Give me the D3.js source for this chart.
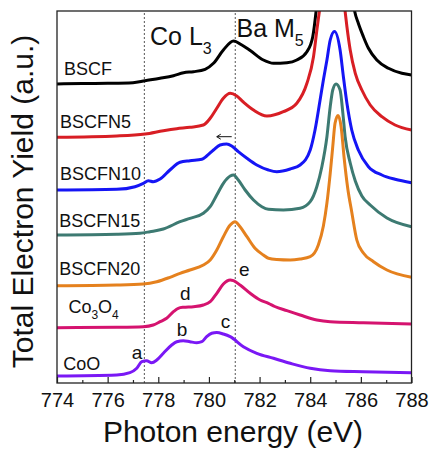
<!DOCTYPE html>
<html>
<head>
<meta charset="utf-8">
<script src="https://cdn.jsdelivr.net/npm/d3@7"></script>
<style>
  html, body { margin: 0; padding: 0; background: #fff; }
  svg { display: block; font-family: "Liberation Sans", Arial, sans-serif; }
</style>
</head>
<body>
<svg id="chart" width="431" height="449"></svg>
<script>
// ---- data (x: photon energy eV, y: total electron yield, arbitrary units) ----
const seriesNames = ["BSCF", "BSCFN5", "BSCFN10", "BSCFN15", "BSCFN20", "Co3O4", "CoO"];
const seriesColors = ["#000000", "#d81e24", "#1515f5", "#3d7a72", "#e5811e", "#d5136f", "#7a18f5"];

const bscf = [
  [774.0,299],[775.0,299.5],[776.0,299.7],[777.0,300.3],[777.48,302.3],[778.07,304.7],[778.6,307.3],
  [779.0,310.3],[779.39,311.3],[779.85,313.7],[780.18,319.7],[780.57,333],[780.97,342],[781.3,338],
  [781.63,332.5],[782.15,323],[782.55,319.7],[783.08,320.3],[783.47,323],[783.87,331.3],[784.1,346.3],
  [784.23,371.3],[784.4,420],[784.7,470],[785.0,485],[785.3,465],[785.6,400],[785.76,371.3],
  [785.9,359.7],[786.1,346.3],[786.3,334.7],[786.63,323],[787.09,314.7],[787.62,309.7],[788.0,308]
];
const bscfn5 = [
  [774.0,245.7],[776.36,247],[777.48,249],[778.2,252.3],[778.73,254.3],[779.25,255.7],[779.78,258],
  [780.05,264.7],[780.31,274.7],[780.57,284.7],[780.84,289.7],[781.1,287],[781.36,281],[781.76,273],
  [782.29,267],[782.94,271.3],[783.47,279.7],[783.87,299.7],[784.13,326.3],[784.28,356.3],[784.36,371.3],
  [784.6,420],[784.87,445],[785.15,420],[785.38,371.3],[785.45,356.3],[785.58,333],[785.78,309.7],
  [786.04,293],[786.37,278],[786.83,266.3],[787.35,258],[788.0,253]
];
const bscfn10 = [
  [774.0,193],[776.36,193.7],[777.08,196.3],[777.41,199.7],[777.61,202.3],[777.8,201.3],[778.07,204],
  [778.46,213],[778.86,220.7],[779.25,222.3],[779.72,223.7],[779.91,227],[780.18,233],[780.44,238],
  [780.7,239],[780.9,237],[781.16,231.3],[781.5,224.7],[781.89,218],[782.35,213],[782.68,211.3],
  [783.21,214],[783.6,218],[784.0,233],[784.19,253],[784.39,283],[784.52,303],[784.66,323],[784.79,343],
  [784.96,351.5],[785.18,333],[785.31,306.3],[785.45,279.7],[785.64,253],[785.9,233],[786.3,216.3],
  [786.83,208],[787.35,203.7],[788.0,200.3]
];
const bscfn15 = [
  [774.0,148],[776.36,148.7],[777.28,149.7],[777.67,151.3],[778.2,154],[778.86,161.3],[779.25,164.7],
  [779.78,169.7],[780.05,176.3],[780.31,188],[780.57,199.7],[780.84,207],[780.97,208],[781.16,203],
  [781.43,193],[781.76,183],[782.09,176.3],[782.35,173.7],[782.94,173],[783.6,174.7],[784.0,181.3],
  [784.26,196.3],[784.46,216.3],[784.66,246.3],[784.79,276.3],[784.89,293],[785.02,299],[785.18,293],
  [785.29,269.7],[785.38,246],[785.58,220],[785.78,202],[786.04,187],[786.37,178],[787.03,165],[788.0,156.3]
];
const bscfn20 = [
  [774.0,97.3],[776.36,98],[777.41,99],[777.94,101.3],[778.46,105.7],[778.86,109.7],[779.25,113],
  [779.78,118],[780.05,123],[780.31,133],[780.57,146.3],[780.84,158],[781.03,161.3],[781.23,156.3],
  [781.5,146.3],[781.82,134.7],[782.15,128],[782.35,124.7],[782.68,123.5],[783.21,123],[783.6,124],
  [784.0,126.3],[784.32,138],[784.52,157],[784.66,180],[784.79,209.7],[784.89,236.3],[784.98,259.7],
  [785.1,267.5],[785.22,256.3],[785.34,225],[785.48,195],[785.64,171],[785.84,143],[786.1,130],
  [786.5,121.3],[787.03,113],[788.0,105.7]
];
const co3o4 = [
  [774.0,55.3],[776.36,55.7],[777.41,56.3],[777.8,58],[778.07,61.3],[778.33,64.7],[778.6,71.3],
  [778.79,74.7],[778.99,75.7],[779.39,76.3],[779.78,78],[780.05,81.3],[780.31,89.7],[780.57,99],
  [780.84,103],[780.97,102.3],[781.23,98],[781.63,89.7],[782.02,83],[782.35,79.7],[782.6,76.5],
  [783.08,72.3],[783.6,68],[784.26,63],[784.79,61.3],[786.1,60.3],[788.0,59]
];
const coo = [
  [774.0,7],[776.36,8],[776.88,10.3],[777.15,14.7],[777.35,21.3],[777.54,22.3],[777.74,20.3],
  [777.94,23],[778.2,29.7],[778.53,38],[778.73,41.3],[778.99,42.3],[779.25,41.3],[779.52,40.3],
  [779.72,41.3],[779.91,46.3],[780.11,49.7],[780.31,50.5],[780.57,49],[780.84,46.3],[781.36,36.3],
  [781.89,29.7],[782.55,24.7],[783.21,19.7],[784.0,14.7],[784.79,12.3],[786.1,11.3],[788.0,10.3]
];
const seriesValues = [bscf, bscfn5, bscfn10, bscfn15, bscfn20, co3o4, coo];

// series label anchor (eV of left edge, y value of baseline)
const labelX = [774.28, 774.12, 774.12, 774.09, 774.09, 774.45, 774.25];
const labelY = [308, 255, 203, 156, 108, 70, 13];

// peak letters
const peakLetters = ["a", "b", "c", "d", "e"];
const peakX = [776.95, 778.73, 780.47, 778.86, 781.19];
const peakY = [24, 47, 55, 83, 107];

// reference lines and shift arrow
const refLines = [777.45, 781.04];
const arrowFrom = [780.9, 246.3];
const arrowTo = [780.31, 246.3];

const xMajorTicks = [774, 776, 778, 780, 782, 784, 786, 788];
const xMinorTicks = [775, 777, 779, 781, 783, 785, 787];

// ---- layout ----
const svg = d3.select("#chart");
const L = 57, R = 411.5, T = 11, B = 383;
const x = d3.scaleLinear().domain([774, 788]).range([L, R]);
const y = d3.scaleLinear().domain([0, 372]).range([B, T]);
const font = '"Liberation Sans", Arial, sans-serif';

svg.append("defs").append("clipPath").attr("id", "plotClip")
  .append("rect").attr("x", L).attr("y", T).attr("width", R - L).attr("height", B - T);

// dashed reference lines
svg.selectAll("line.ref").data(refLines).enter().append("line")
  .attr("x1", d => x(d)).attr("x2", d => x(d))
  .attr("y1", y(0)).attr("y2", y(372))
  .attr("stroke", "#555").attr("stroke-width", 1).attr("stroke-dasharray", "2,2");

// curves
const line = d3.line().x(d => x(d[0])).y(d => y(d[1])).curve(d3.curveMonotoneX);
const g = svg.append("g").attr("clip-path", "url(#plotClip)");
g.selectAll("path.s").data(seriesValues).enter().append("path")
  .attr("d", line)
  .attr("fill", "none")
  .attr("stroke", (d, i) => seriesColors[i])
  .attr("stroke-width", 3)
  .attr("stroke-linejoin", "round");

// axes
const xAxis = svg.append("g").attr("transform", `translate(0,${B})`)
  .call(d3.axisBottom(x).tickValues(xMajorTicks).tickSize(-6).tickPadding(10).tickFormat(d3.format("d")));
xAxis.select(".domain").remove();
xAxis.selectAll("line").attr("stroke", "#222").attr("stroke-width", 1.2);
xAxis.selectAll("text").attr("font-size", 20).attr("font-family", font).attr("fill", "#111");
const xMinor = svg.append("g").attr("transform", `translate(0,${B})`)
  .call(d3.axisBottom(x).tickValues(xMinorTicks).tickSize(-3).tickFormat(""));
xMinor.select(".domain").remove();
xMinor.selectAll("line").attr("stroke", "#222").attr("stroke-width", 1.2);

// frame
svg.append("rect").attr("x", L).attr("y", T).attr("width", R - L).attr("height", B - T)
  .attr("fill", "none").attr("stroke", "#222").attr("stroke-width", 1.3);

// axis titles
svg.append("text").attr("x", 233).attr("y", 442)
  .attr("text-anchor", "middle").attr("font-size", 30).attr("font-family", font).attr("fill", "#111")
  .text("Photon energy (eV)");
svg.append("text").attr("transform", "translate(33,201.5) rotate(-90)")
  .attr("text-anchor", "middle").attr("font-size", 30).attr("font-family", font).attr("fill", "#111")
  .text("Total Electron Yield (a.u.)");

// series labels
seriesNames.forEach((name, i) => {
  const t = svg.append("text").attr("x", x(labelX[i])).attr("y", y(labelY[i]))
    .attr("font-size", 18).attr("font-family", font).attr("fill", "#111");
  if (name === "Co3O4") {
    t.append("tspan").text("Co");
    t.append("tspan").attr("dy", 6).attr("font-size", 12).text("3");
    t.append("tspan").attr("dy", -6).text("O");
    t.append("tspan").attr("dy", 6).attr("font-size", 12).text("4");
  } else {
    t.text(name);
  }
});

// peak letters
svg.selectAll("text.pk").data(peakLetters).enter().append("text")
  .attr("x", (d, i) => x(peakX[i])).attr("y", (d, i) => y(peakY[i]))
  .attr("font-size", 19).attr("font-family", font).attr("fill", "#111")
  .text(d => d);

// edge labels
const coL = svg.append("text").attr("x", 150).attr("y", 45)
  .attr("font-size", 25).attr("font-family", font).attr("fill", "#111");
coL.append("tspan").text("Co L");
coL.append("tspan").attr("dy", 9).attr("font-size", 16).text("3");
const baM = svg.append("text").attr("x", 236.5).attr("y", 37)
  .attr("font-size", 25).attr("font-family", font).attr("fill", "#111");
baM.append("tspan").text("Ba M");
baM.append("tspan").attr("dy", 9).attr("font-size", 16).text("5");

// shift arrow
const ax1 = x(arrowFrom[0]), ax2 = x(arrowTo[0]), ay = y(arrowFrom[1]);
svg.append("line").attr("x1", ax1).attr("x2", ax2).attr("y1", ay).attr("y2", ay)
  .attr("stroke", "#111").attr("stroke-width", 1);
svg.append("path").attr("d", `M${ax2 + 4},${ay - 2.5} L${ax2},${ay} L${ax2 + 4},${ay + 2.5}`)
  .attr("fill", "none").attr("stroke", "#111").attr("stroke-width", 1);
</script>
</body>
</html>
